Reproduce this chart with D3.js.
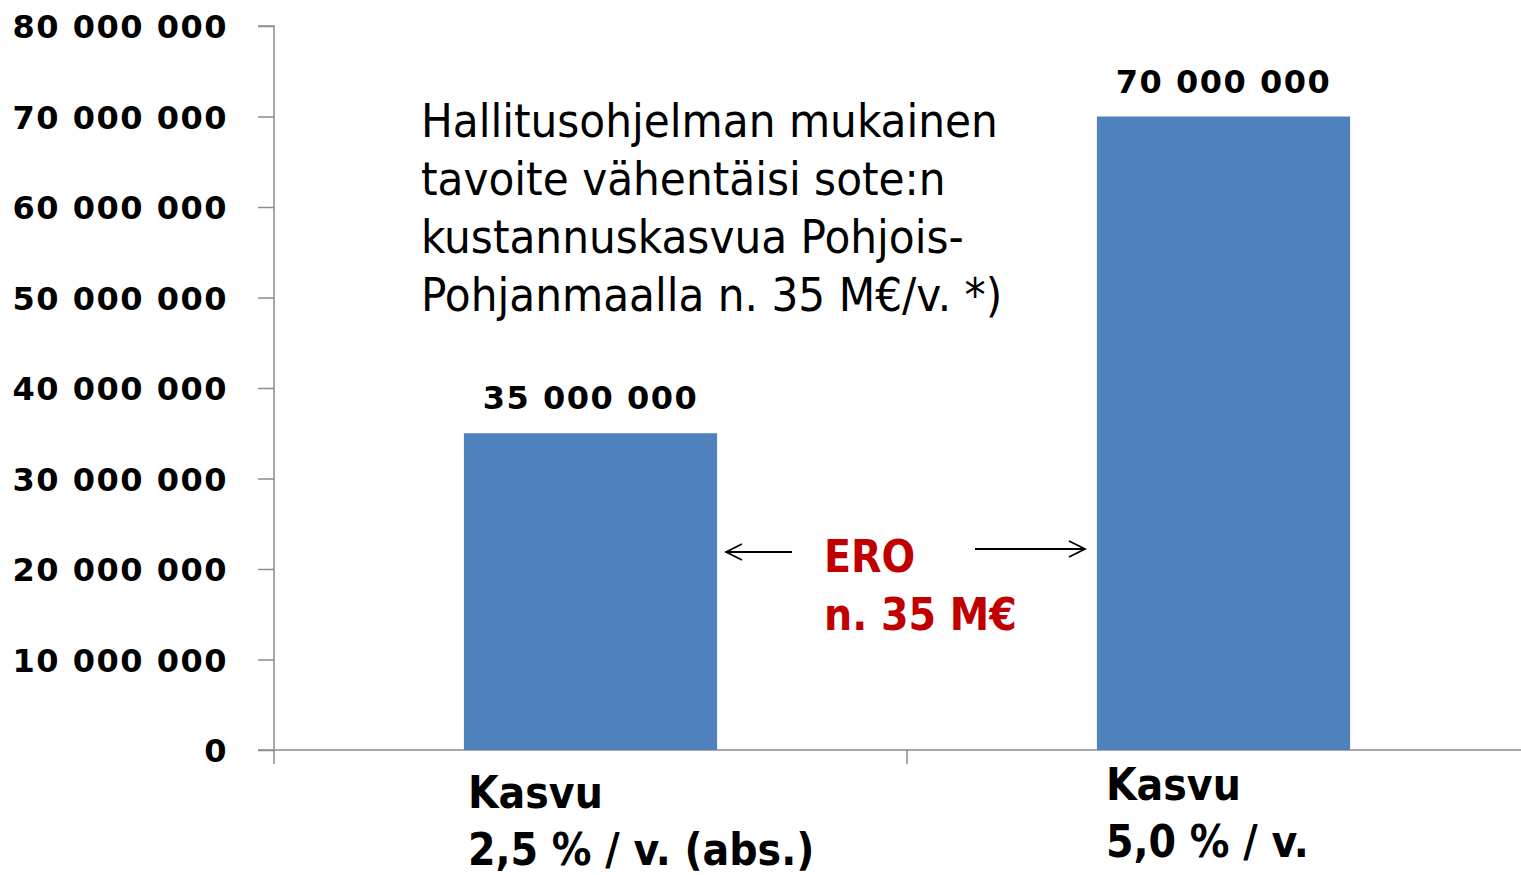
<!DOCTYPE html>
<html>
<head>
<meta charset="utf-8">
<script src="https://cdn.jsdelivr.net/npm/d3@7"></script>
<style>
  body { margin: 0; background: #fff; }
</style>
</head>
<body>
<div id="chart"></div>
<script>
// data
var categories = ["Kasvu 2,5 % / v. (abs.)", "Kasvu 5,0 % / v."];
var values = [35000000, 70000000];
var catLines = [["Kasvu", "2,5 % / v. (abs.)"], ["Kasvu", "5,0 % / v."]];
var yTicks = [0, 10000000, 20000000, 30000000, 40000000, 50000000, 60000000, 70000000, 80000000];
var noteLines = ["Hallitusohjelman mukainen", "tavoite vähentäisi sote:n", "kustannuskasvua Pohjois-", "Pohjanmaalla n. 35 M€/v. *)"];
var eroLines = ["ERO", "n. 35 M€"];

var W = 1521, H = 875;
var margin = {top: 26, left: 274, bottom: 125};
var plotH = H - margin.top - margin.bottom; // 724

var svg = d3.select("#chart").append("svg")
    .attr("width", W)
    .attr("height", H);

var g = svg.append("g")
    .attr("transform", "translate(" + margin.left + "," + margin.top + ")");

// scales
var x = d3.scaleBand()
    .domain(categories)
    .range([0, 1266])
    .paddingInner(0.6)
    .paddingOuter(0.3);

var y = d3.scaleLinear()
    .domain([0, 80000000])
    .range([plotH, 0]);

var fmt = function(d) { return d3.format(",")(d).replace(/,/g, " "); };

// y axis
var yAxis = g.append("g")
    .call(d3.axisLeft(y).tickValues(yTicks).tickSize(16).tickPadding(30).tickFormat(fmt));
yAxis.selectAll("line, path").attr("stroke", "#8c8c8c").attr("stroke-width", 1.5);
yAxis.select("path").attr("d", "M0," + plotH + "V0H-16");
yAxis.selectAll("text")
    .style("font-family", "'DejaVu Sans', Verdana, sans-serif")
    .style("font-weight", "bold")
    .style("font-size", "32px")
    .style("letter-spacing", "1.5px")
    .attr("fill", "#000")
    .attr("dy", "0.36em");

// x axis baseline + category separators
var xAxisG = g.append("g").attr("transform", "translate(0," + plotH + ")");
xAxisG.append("line")
    .attr("x1", -16).attr("x2", W - margin.left)
    .attr("stroke", "#8c8c8c").attr("stroke-width", 1.5);
var seps = [0, x.step()];
xAxisG.selectAll(".sep").data(seps).join("line")
    .attr("x1", d => d).attr("x2", d => d)
    .attr("y1", 0).attr("y2", 14)
    .attr("stroke", "#8c8c8c").attr("stroke-width", 1.5);

// bars
g.selectAll(".bar").data(values).join("rect")
    .attr("x", (d, i) => x(categories[i]))
    .attr("width", x.bandwidth())
    .attr("y", d => y(d))
    .attr("height", d => plotH - y(d))
    .attr("fill", "#4f81bd");

// bar value labels
g.selectAll(".val").data(values).join("text")
    .attr("x", (d, i) => x(categories[i]) + x.bandwidth() / 2)
    .attr("y", d => y(d) - 24)
    .attr("text-anchor", "middle")
    .style("font-family", "'DejaVu Sans', Verdana, sans-serif")
    .style("font-weight", "bold")
    .style("font-size", "32px")
    .style("letter-spacing", "1.5px")
    .text(d => fmt(d));

// category labels
var labelY = [808, 800];
var labelDx = [4, 9];
catLines.forEach(function(lines, i) {
  var lx = margin.left + x(categories[i]) + labelDx[i];
  var t = svg.append("text")
      .attr("x", lx)
      .attr("y", labelY[i])
      .style("font-family", "'DejaVu Sans Condensed', 'Open Sans', sans-serif")
      .style("font-weight", "bold")
      .style("font-size", "44px");
  lines.forEach(function(l, j) {
    t.append("tspan").attr("x", lx).attr("dy", j ? 57 : 0).text(l);
  });
});

// note
var note = svg.append("text")
    .attr("x", 421).attr("y", 137)
    .style("font-family", "'DejaVu Sans Condensed', 'Liberation Sans', sans-serif")
    .style("font-size", "47px")
    .attr("fill", "#000");
noteLines.forEach(function(l, j) {
  note.append("tspan").attr("x", 421).attr("dy", j ? 58 : 0).text(l);
});

// ERO
var ero = svg.append("text")
    .attr("x", 824).attr("y", 572)
    .style("font-family", "'DejaVu Sans Condensed', 'Open Sans', sans-serif")
    .style("font-weight", "bold")
    .style("font-size", "44px")
    .attr("fill", "#c00000");
eroLines.forEach(function(l, j) {
  ero.append("tspan").attr("x", 824).attr("dy", j ? 58 : 0).text(l);
});

// arrows
var defs = svg.append("defs");
defs.append("marker")
    .attr("id", "arr")
    .attr("viewBox", "0 0 20 20")
    .attr("refX", 18).attr("refY", 10)
    .attr("markerWidth", 20).attr("markerHeight", 20)
    .attr("markerUnits", "userSpaceOnUse")
    .attr("orient", "auto")
  .append("path")
    .attr("d", "M2,2L18,10L2,18")
    .attr("fill", "none").attr("stroke", "#000").attr("stroke-width", 1.8);

var arrows = [[792, 552, 726, 552], [975, 549, 1085, 549]];
svg.selectAll(".arrow").data(arrows).join("line")
    .attr("x1", d => d[0]).attr("y1", d => d[1])
    .attr("x2", d => d[2]).attr("y2", d => d[3])
    .attr("stroke", "#000").attr("stroke-width", 2)
    .attr("marker-end", "url(#arr)");
</script>
</body>
</html>
